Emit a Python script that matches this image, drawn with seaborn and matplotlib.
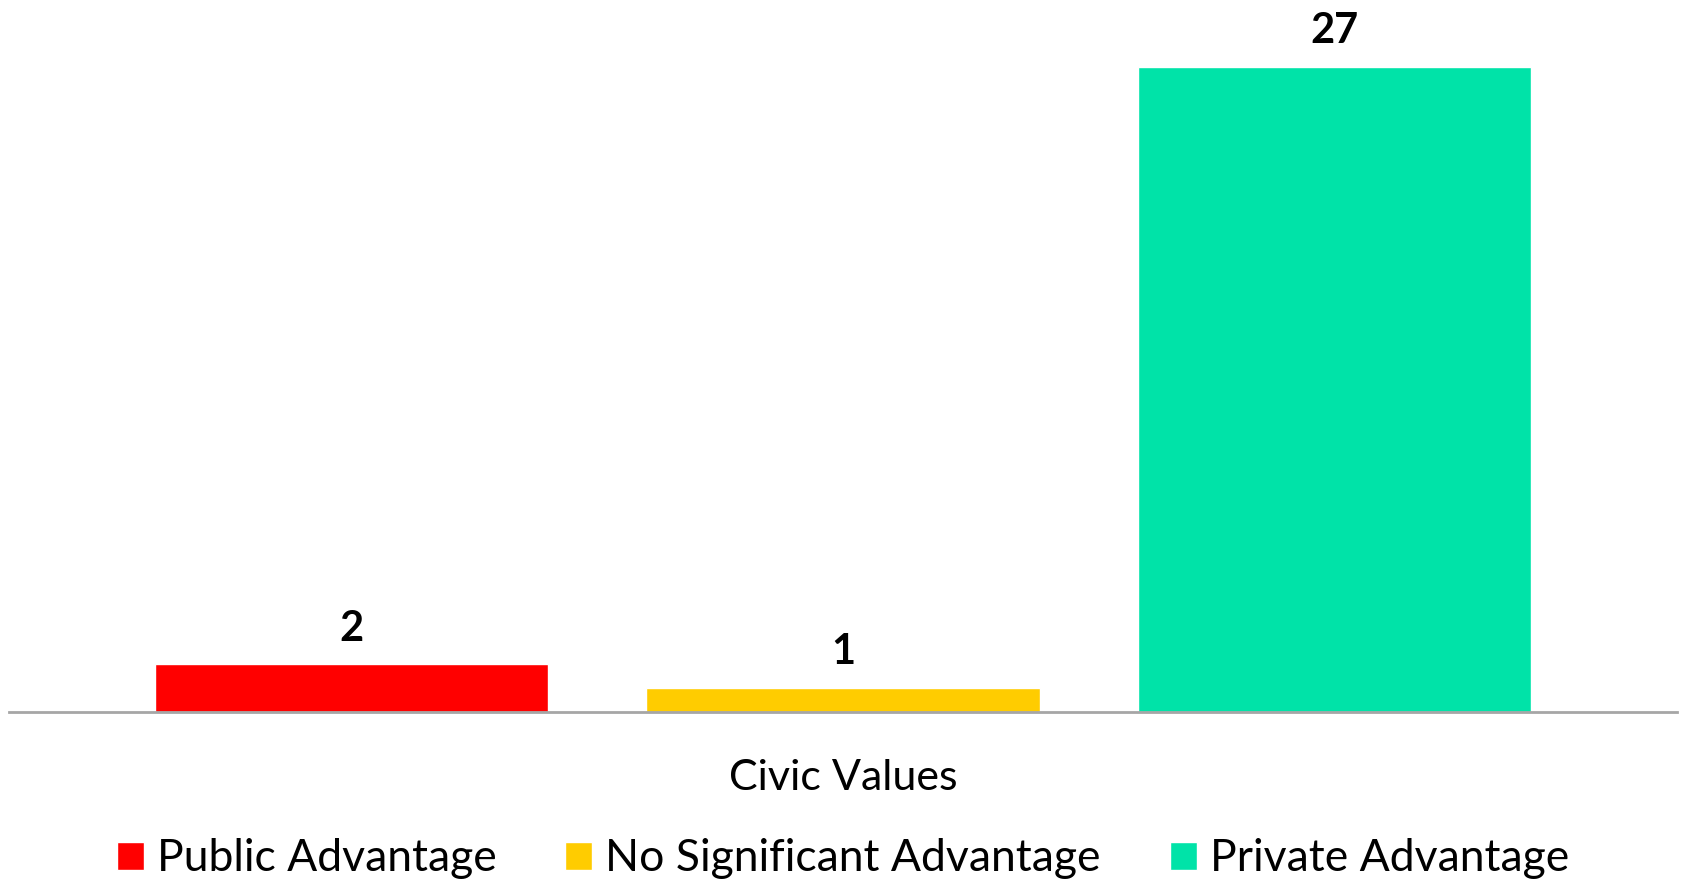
import pandas as pd
import matplotlib.pyplot as plt
import seaborn as sns

categoria = ['Civic Values', 'Civic Values', 'Civic Values']
grupos = ['Public Advantage', 'No Significant Advantage', 'Private Advantage']
valores = [2, 1, 27]
cores = ['#FF0000', '#FFCC00', '#00E3A8']

df = pd.DataFrame({'categoria': categoria, 'grupo': grupos, 'valor': valores})

sns.set_style('white')
plt.rcParams['font.family'] = ['Lato', 'DejaVu Sans']
plt.rcParams['text.color'] = 'black'

fig = plt.figure(figsize=(16.83, 8.8), dpi=100)
ax = fig.add_axes([9 / 1683, 1 - 712 / 880, 1668 / 1683, 712 / 880])

sns.barplot(data=df, x='categoria', y='valor', hue='grupo', palette=cores,
            saturation=1, width=0.8, gap=0.2, ax=ax, legend=True)

for c in ax.containers:
    ax.bar_label(c, fmt='%d', padding=12, fontsize=30, fontweight='bold', color='black')

ax.set_ylim(0, 29.8)
ax.set_xlim(-0.4523, 0.4523)
ax.set_xlabel('')
ax.set_ylabel('')
ax.set_yticks([])
ax.tick_params(axis='x', labelsize=31, pad=34, length=0, labelcolor='black')
for s in ['top', 'left', 'right']:
    ax.spines[s].set_visible(False)
ax.spines['bottom'].set_color('#A6A6A6')
ax.spines['bottom'].set_linewidth(2)

ax.legend(loc='lower center', bbox_to_anchor=(0.5, -0.26), ncol=3, frameon=False,
          fontsize=32, handlelength=0.6, handleheight=0.6, handletextpad=0.3,
          columnspacing=1.55, borderaxespad=0, labelcolor='black')

fig.savefig('out.png', dpi=100)
